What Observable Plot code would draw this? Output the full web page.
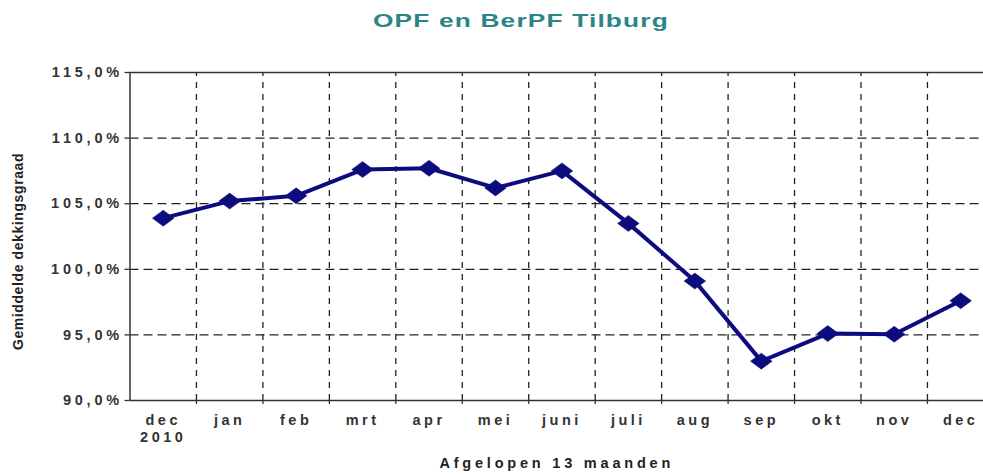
<!DOCTYPE html>
<html>
<head>
<meta charset="utf-8">
<script src="https://cdn.jsdelivr.net/npm/d3@7"></script>
<script src="https://cdn.jsdelivr.net/npm/@observablehq/plot@0.6"></script>
<style>
  html, body { margin: 0; padding: 0; background: #fff; width: 983px; height: 476px; overflow: hidden; }
  #title { height: 40px; line-height: 42px; font-family: "Liberation Sans", Arial, sans-serif; font-weight: bold;
           font-size: 18px; letter-spacing: 0.8px; color: #2b8585; position: relative; }
  #title span { position: absolute; left: 373px; top: 0; transform: scaleX(1.46); transform-origin: 0 50%; white-space: nowrap; }
  svg text { font-family: "Liberation Sans", Arial, sans-serif; }
  g[aria-label="y-axis tick label"] text { letter-spacing: 3.8px; }
  g[aria-label="x-axis tick label"] text { letter-spacing: 3.5px; }
  .xlab text { letter-spacing: 3.8px; }
  .ylab text { letter-spacing: 0.6px; }
</style>
</head>
<body>
<div id="title"><span>OPF en BerPF Tilburg</span></div>
<div id="chart"></div>
<script>
const months = ["dec\n2010","jan","feb","mrt","apr","mei","juni","juli","aug","sep","okt","nov","dec"];
const values = [103.9,105.2,105.6,107.6,107.7,106.2,107.5,103.5,99.1,93.0,95.1,95.05,97.6];
const yTicks = [90,95,100,105,110,115];
const xLabel = "Afgelopen 13 maanden";
const yLabel = "Gemiddelde dekkingsgraad";

const data = months.map((m, i) => ({i, m, v: values[i]}));
const bounds = d3.range(0.5, 12, 1);
const navy = "#0c0c7e";

const wideDiamond = {
  draw(context, size) {
    const r = Math.sqrt(size / Math.PI);
    const w = r * 1.35, h = r;
    context.moveTo(0, -h);
    context.lineTo(w, 0);
    context.lineTo(0, h);
    context.lineTo(-w, 0);
    context.closePath();
  }
};

const fmt = d => d.toFixed(1).replace(".", ",") + "%";

const chart = Plot.plot({
  width: 983,
  height: 436,
  marginTop: 32,
  marginBottom: 76,
  marginLeft: 129.5,
  marginRight: 0,
  x: {type: "linear", domain: [-0.5, 12.5], range: [129.5, 993.4]},
  y: {domain: [90, 115]},
  marks: [
    Plot.ruleY(yTicks.filter(d => d > 90 && d < 115), {stroke: "#222", strokeWidth: 1.3, strokeDasharray: "9,5"}),
    Plot.ruleX(bounds, {y1: 90, y2: 115, stroke: "#222", strokeWidth: 1.3, strokeDasharray: "6,6"}),
    Plot.axisX({ticks: bounds, tickSize: 4, tickFormat: () => "", stroke: "#333", strokeWidth: 1.3, label: null}),
    Plot.axisX({ticks: d3.range(13), tickSize: 0, tickPadding: 13, tickFormat: i => months[i],
      fontSize: 14.5, fontWeight: "bold", fill: "#333", lineHeight: 1.15, label: null}),
    Plot.axisY({ticks: yTicks, tickSize: 5, tickPadding: 2, tickFormat: fmt,
      fontSize: 14.5, fontWeight: "bold", fill: "#333", stroke: "#333", strokeWidth: 1.3, label: null}),
    Plot.ruleY([90, 115], {stroke: "#333", strokeWidth: 1.5}),
    Plot.ruleX([-0.5, 12.5], {stroke: "#333", strokeWidth: 1.5}),
    Plot.line(data, {x: "i", y: "v", stroke: navy, strokeWidth: 4, strokeLinejoin: "round"}),
    Plot.dot(data, {x: "i", y: "v", symbol: wideDiamond, r: 8, fill: navy, stroke: navy, strokeWidth: 0.5}),
    Plot.text([xLabel], {frameAnchor: "bottom", dy: 67, fontSize: 14.5, fontWeight: "bold", fill: "#222", className: "xlab"}),
    Plot.text([yLabel], {frameAnchor: "left", textAnchor: "middle", dx: -111, dy: 15, rotate: -90, fontSize: 14, fontWeight: "bold", fill: "#222", className: "ylab"})
  ]
});
document.getElementById("chart").appendChild(chart);
</script>
</body>
</html>
